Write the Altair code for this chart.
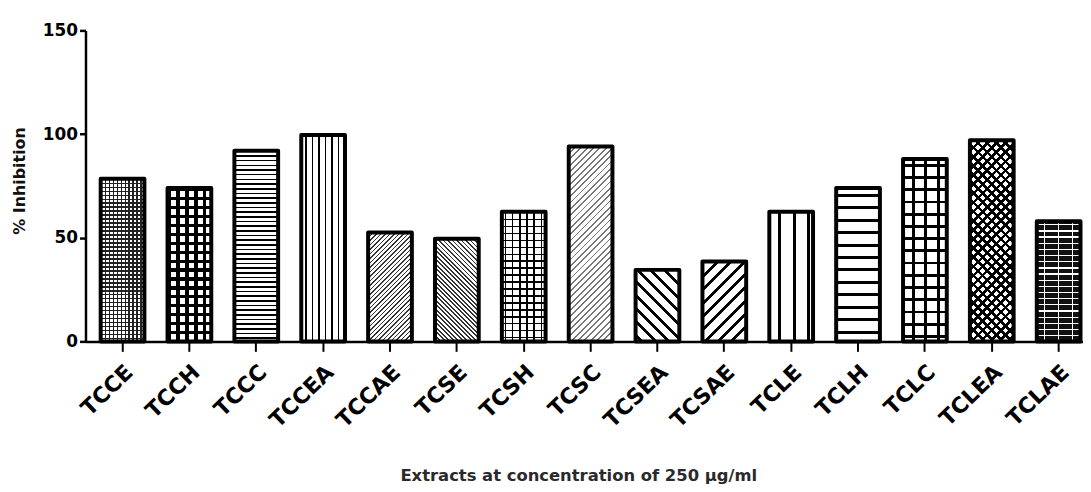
import math
import altair as alt
import pandas as pd

# ---- data ----
names = ["TCCE", "TCCH", "TCCC", "TCCEA", "TCCAE", "TCSE", "TCSH", "TCSC",
         "TCSEA", "TCSAE", "TCLE", "TCLH", "TCLC", "TCLEA", "TCLAE"]
values = [78.5, 74, 92, 99.5, 52.5, 49.5, 62.5, 94, 34.5, 38.5, 62.5, 74, 88, 97, 58]
y_ticks = [0, 50, 100, 150]
y_max = 150
x_title = "Extracts at concentration of 250 µg/ml"
y_title = "% Inhibition"

df = pd.DataFrame({"name": names, "value": values})

# ---- layout / style ----
PLOT_W, PLOT_H = 1004, 313
STEP = 67.3
PAD_INNER = 0.346
PAD_OUTER = 0.227
BAND = STEP * (1 - PAD_INNER)
RANGE_END = STEP * (len(names) - PAD_INNER + 2 * PAD_OUTER)
CLEAR = "rgba(0,0,0,0)"

# hatch patterns per bar: (kind, period px, line px, line colour[, phase])
patterns = {
    "TCCE": {"bg": "white", "layers": [("h", 4, 1.6, "#222"), ("v", 4, 1.6, "#222")]},
    "TCCH": {"bg": "white", "layers": [("h", 9, 3.2, "#000"), ("v", 9, 3.2, "#000")]},
    "TCCC": {"bg": "white", "layers": [("h", 4.7, 1.5, "#000")]},
    "TCCEA": {"bg": "white", "layers": [("v", 6.6, 1.3, "#000", 4)]},
    "TCCAE": {"bg": "white", "layers": [("d1", 3.2, 1.2, "#333")]},
    "TCSE": {"bg": "white", "layers": [("d2", 3.2, 1.2, "#333")]},
    "TCSH": {"bg": "white", "layers": [("h", 7, 1.4, "#000"), ("v", 7.2, 1.4, "#000", 3)]},
    "TCSC": {"bg": "white", "layers": [("d1", 4.5, 1.3, "#777")]},
    "TCSEA": {"bg": "white", "layers": [("d2", 9.5, 2.8, "#000")]},
    "TCSAE": {"bg": "white", "layers": [("d1", 9.5, 2.8, "#000")]},
    "TCLE": {"bg": "white", "layers": [("v", 14.5, 3, "#000", 9)]},
    "TCLH": {"bg": "white", "layers": [("h", 12.5, 3, "#000", 6)]},
    "TCLC": {"bg": "white", "layers": [("h", 12.3, 2.8, "#000", 5), ("v", 12.5, 2.8, "#000", 9)]},
    "TCLEA": {"bg": "white", "layers": [("d1", 6.5, 2.6, "#000"), ("d2", 6.5, 2.6, "#000")]},
    "TCLAE": {"bg": "#111", "layers": [("h", 6.2, 1.3, "#fff", 3), ("v", 14, 1.3, "#fff", 7)]},
}


def gradient(kind, w, h, period, line, fg, bg, phase=0.0):
    if kind == "h":
        geo = dict(x1=0, y1=0, x2=0, y2=1)
        length = h
    elif kind == "v":
        geo = dict(x1=0, y1=0, x2=1, y2=0)
        length = w
    else:
        c = (w + h) / (w * w + h * h)
        length = (w + h) / math.sqrt(2)
        if kind == "d1":
            geo = dict(x1=0, y1=0, x2=c * w, y2=c * h)
        else:
            geo = dict(x1=1, y1=0, x2=1 - c * w, y2=c * h)
    stops = []
    x = (phase % period) - period
    while x < length:
        for a, b, col in ((x, x + line, fg), (x + line, x + period, bg)):
            a2 = min(max(a / length, 0), 1)
            b2 = min(max(b / length, 0), 1)
            if b2 > a2:
                stops.append({"offset": round(a2, 5), "color": col})
                stops.append({"offset": round(b2, 5), "color": col})
        x += period
    g = {"gradient": "linear"}
    g.update({k: round(v, 5) for k, v in geo.items()})
    g["stops"] = stops
    return g


x_enc = alt.X(
    "name:N", sort=names,
    scale=alt.Scale(range=[0, RANGE_END], paddingInner=PAD_INNER, paddingOuter=PAD_OUTER),
    axis=alt.Axis(
        title=x_title, labelAngle=-44, labelAlign="right", labelBaseline="top",
        labelFont="DejaVu Sans", labelFontSize=22, labelFontWeight="bold",
        labelColor="black", labelPadding=10, labelOverlap=False,
        tickSize=10, tickWidth=2, tickColor="black",
        domainColor="black", domainWidth=2.5, grid=False,
        titleFont="DejaVu Sans", titleFontSize=16.5, titleFontWeight="bold",
        titleColor="#2a2a2a", titleX=496, titleY=135, titleAlign="center",
        titleBaseline="middle",
    ),
)
y_enc = alt.Y(
    "value:Q",
    scale=alt.Scale(domain=[0, y_max], nice=False, zero=True),
    axis=alt.Axis(
        values=y_ticks, title=y_title,
        labelFont="DejaVu Sans", labelFontSize=17, labelFontWeight="bold",
        labelColor="black", labelPadding=2,
        tickSize=6, tickWidth=2.5, tickColor="black",
        domainColor="black", domainWidth=2.5, grid=False,
        titleFont="DejaVu Sans", titleFontSize=16, titleFontWeight="bold",
        titleColor="#111", titleX=-66, titleY=151, titleAlign="center",
        titleBaseline="middle", titleAngle=270,
    ),
)

base = alt.Chart(df).encode(x=x_enc, y=y_enc)

layers = []
for name, value in zip(names, values):
    h = value * PLOT_H / y_max
    spec = patterns[name]
    for i, lay in enumerate(spec["layers"]):
        kind, p, l, fg = lay[:4]
        phase = lay[4] if len(lay) > 4 else 0
        bg = spec["bg"] if i == 0 else CLEAR
        g = gradient(kind, BAND, h, p, l, fg, bg, phase)
        layers.append(
            base.transform_filter(alt.datum.name == name).mark_bar(fill=g, strokeWidth=0)
        )

layers.append(base.mark_bar(fillOpacity=0, stroke="black", strokeWidth=4, strokeJoin="round"))

chart = alt.layer(*layers).properties(
    width=PLOT_W, height=PLOT_H,
    autosize=alt.AutoSizeParams(type="none"),
    padding={"left": 78, "top": 21, "right": 0, "bottom": 145},
    background="white",
).configure_view(strokeWidth=0)

chart.save("out.html", embed_options={"renderer": "svg", "actions": False})
